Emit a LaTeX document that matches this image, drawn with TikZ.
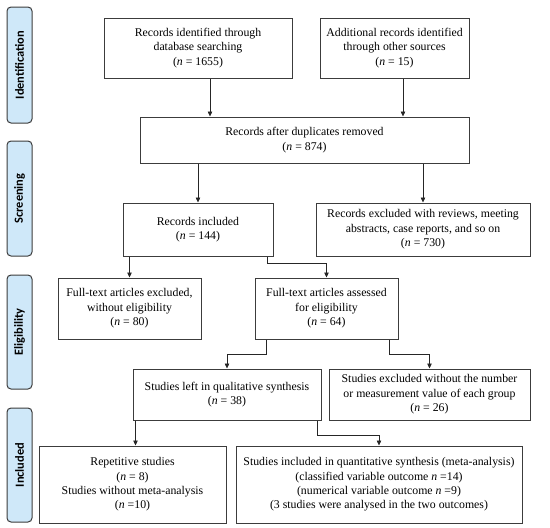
\documentclass[tikz,border=0pt]{standalone}
\usepackage{fontspec}
\setmainfont{Liberation Serif}
\newfontfamily\phasefont{Carlito}
\usepackage{xcolor}
\usepackage{tikz}
\usetikzlibrary{arrows.meta}

\definecolor{phasefill}{HTML}{CFE8F9}
\definecolor{boxline}{HTML}{3C3C3C}

\begin{document}
\begin{tikzpicture}[x=1pt, y=-1pt,
    every node/.style={font=\fontsize{11.8}{14.4}\selectfont},
    flowbox/.style={draw=boxline, line width=1pt, align=center, inner sep=2pt},
    phase/.style={draw=boxline, line width=1pt, fill=phasefill, rounded corners=4pt,
        rotate=90, minimum height=25pt, inner sep=0pt,
        font=\phasefont\bfseries\fontsize{12.4}{14}\selectfont},
    arr/.style={-{Triangle[length=5pt, width=4.5pt]}, line width=0.7pt, black!85}]
  \useasboundingbox (0,0) rectangle (550,528);

  % phase labels on the left
  \node[phase, minimum width=116pt] (idf) at (19.5, 65) {Identification};
  \node[phase, minimum width=115pt] (scr) at (19.5, 198.5) {Screening};
  \node[phase, minimum width=114pt] (elg) at (19.5, 332) {Eligibility};
  \node[phase, minimum width=114pt] (inc) at (19.5, 465) {Included};

  % identification
  \node[flowbox, minimum width=188pt, minimum height=60pt] (db) at (198, 48) {
      Records identified through\\ database searching\\ (\textit{n} = 1655)};
  \node[flowbox, minimum width=149pt, minimum height=60pt] (other) at (394.5, 48) {
      Additional records identified\\ through other sources\\ (\textit{n} = 15)};
  \node[flowbox, minimum width=329pt, minimum height=46pt] (dedup) at (304.5, 140) {
      Records after duplicates removed\\ (\textit{n} = 874)};

  % screening
  \node[flowbox, minimum width=150pt, minimum height=53pt] (incl) at (198, 229.5) {
      Records included\\ (\textit{n} = 144)};
  \node[flowbox, minimum width=214pt, minimum height=53pt] (excl) at (423, 229.5) {
      Records excluded with reviews, meeting\\ abstracts, case reports, and so on\\
      (\textit{n} = 730)};

  % eligibility
  \node[flowbox, minimum width=143pt, minimum height=61pt] (ftexcl) at (129.5, 308.5) {
      Full-text articles excluded,\\ without eligibility\\ (\textit{n} = 80)};
  \node[flowbox, minimum width=143pt, minimum height=61pt] (ftass) at (326.5, 308.5) {
      Full-text articles assessed\\ for eligibility\\ (\textit{n} = 64)};
  \node[flowbox, minimum width=188pt, minimum height=51pt] (qual) at (227, 394.5) {
      Studies left in qualitative synthesis\\ (\textit{n} = 38)};
  \node[flowbox, minimum width=201pt, minimum height=51pt] (noval) at (429.5, 394.5) {
      Studies excluded without the number\\ or measurement value of each group\\
      (\textit{n} = 26)};

  % included
  \node[flowbox, minimum width=187pt, minimum height=77pt] (rep) at (132.5, 484.5) {
      Repetitive studies\\ (\textit{n} = 8)\\ Studies without meta-analysis\\
      (\textit{n} =10)};
  \node[flowbox, minimum width=286pt, minimum height=77pt] (quant) at (379, 484.5) {
      Studies included in quantitative synthesis (meta-analysis)\\
      (classified variable outcome \textit{n} =14)\\
      (numerical variable outcome \textit{n} =9)\\
      (3 studies were analysed in the two outcomes)};

  % connectors
  \draw[arr] ([xshift=12pt]db.south) -- ([xshift=12pt]db.south |- dedup.north);
  \draw[arr] ([xshift=8.5pt]other.south) -- ([xshift=8.5pt]other.south |- dedup.north);
  \draw[arr] (dedup.south -| incl.north) -- (incl.north);
  \draw[arr] (dedup.south -| excl.north) -- (excl.north);
  \draw[arr] (incl.south -| ftexcl.north) -- (ftexcl.north);
  \draw[arr] ([xshift=-6pt]incl.south east) -- ++(0,7) -| (ftass.north);
  \draw[arr] ([xshift=12pt]ftass.south west) -- ++(0,15) -| (qual.north);
  \draw[arr] ([xshift=-9pt]ftass.south east) -- ++(0,15) -| (noval.north);
  \draw[arr] ([xshift=3pt]qual.south west) -- ([xshift=3pt]qual.south west |- rep.north);
  \draw[arr] ([xshift=-4pt]qual.south east) -- ++(0,15) -| (quant.north);
\end{tikzpicture}
\end{document}
